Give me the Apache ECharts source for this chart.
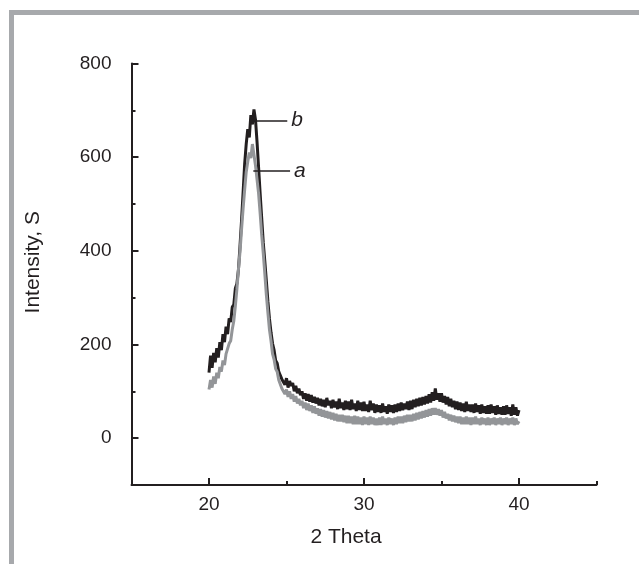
<!DOCTYPE html>
<html>
<head>
<meta charset="utf-8">
<script src="https://cdn.jsdelivr.net/npm/echarts@6/dist/echarts.min.js"></script>
<style>html,body{margin:0;padding:0;background:#fff;}#c{width:639px;height:564px;}</style>
</head>
<body>
<div id="c"></div>
<script>
const xLabelTitle = '2 Theta';
const yLabelTitle = 'Intensity, S';
const xTickLabels = [20, 30, 40];
const xMinorTicks = [25, 35, 45];
const yTickLabels = [0, 200, 400, 600, 800];
const yMinorTicks = [100, 300, 500, 700];

const twoTheta = [
20.0,20.1,20.2,20.3,20.4,20.5,20.6,20.7,20.8,20.9,
21.0,21.1,21.2,21.3,21.4,21.5,21.6,21.7,21.8,21.9,
22.0,22.1,22.2,22.3,22.4,22.5,22.6,22.7,22.8,22.9,
23.0,23.1,23.2,23.3,23.4,23.5,23.6,23.7,23.8,23.9,
24.0,24.1,24.2,24.3,24.4,24.5,24.6,24.7,24.8,24.9,
25.0,25.1,25.2,25.3,25.4,25.5,25.6,25.7,25.8,25.9,
26.0,26.1,26.2,26.3,26.4,26.5,26.6,26.7,26.8,26.9,
27.0,27.1,27.2,27.3,27.4,27.5,27.6,27.7,27.8,27.9,
28.0,28.1,28.2,28.3,28.4,28.5,28.6,28.7,28.8,28.9,
29.0,29.1,29.2,29.3,29.4,29.5,29.6,29.7,29.8,29.9,
30.0,30.1,30.2,30.3,30.4,30.5,30.6,30.7,30.8,30.9,
31.0,31.1,31.2,31.3,31.4,31.5,31.6,31.7,31.8,31.9,
32.0,32.1,32.2,32.3,32.4,32.5,32.6,32.7,32.8,32.9,
33.0,33.1,33.2,33.3,33.4,33.5,33.6,33.7,33.8,33.9,
34.0,34.1,34.2,34.3,34.4,34.5,34.6,34.7,34.8,34.9,
35.0,35.1,35.2,35.3,35.4,35.5,35.6,35.7,35.8,35.9,
36.0,36.1,36.2,36.3,36.4,36.5,36.6,36.7,36.8,36.9,
37.0,37.1,37.2,37.3,37.4,37.5,37.6,37.7,37.8,37.9,
38.0,38.1,38.2,38.3,38.4,38.5,38.6,38.7,38.8,38.9,
39.0,39.1,39.2,39.3,39.4,39.5,39.6,39.7,39.8,39.9,
40.0
];

// sample b (black)
const seriesB = [
140,176,150,182,162,192,172,205,188,222,
205,238,222,256,248,280,285,320,330,360,
410,465,525,585,628,660,642,690,670,702,
680,632,578,522,470,418,378,336,292,255,
226,202,188,166,160,142,140,126,128,114,
128,108,122,112,118,100,112,96,106,92,
100,84,96,80,94,78,92,76,88,74,
86,70,84,68,82,66,86,70,80,64,
82,66,78,62,84,64,76,60,80,62,
78,60,82,62,74,58,80,60,76,58,
78,58,72,56,80,60,74,54,72,56,
70,54,74,56,68,52,72,56,70,54,
72,56,74,58,76,60,74,62,78,60,
80,62,82,66,84,68,86,70,88,72,
90,74,94,76,98,80,106,82,96,78,
96,76,90,72,88,68,84,66,80,62,
78,60,76,58,74,56,78,58,72,56,
72,54,74,56,70,52,72,54,68,52,
70,52,72,54,68,50,70,52,66,50,
68,50,70,52,66,48,72,50,66,48,
60
];

// sample a (grey)
const seriesA = [
104,124,108,132,116,140,128,152,142,166,
156,180,176,202,208,232,250,282,318,360,
398,445,490,530,568,590,610,598,628,605,
582,552,522,480,434,395,352,306,268,232,
208,180,168,148,142,124,122,106,108,94,
104,88,100,84,94,78,90,74,84,70,
80,64,76,60,74,58,70,54,68,52,
64,48,62,46,60,44,58,42,56,40,
54,38,52,36,50,36,50,34,48,32,
48,32,46,30,48,30,46,30,44,28,
46,30,44,28,46,30,44,28,42,28,
44,28,46,30,42,28,44,30,42,28,
44,30,46,32,46,32,48,34,50,36,
50,36,52,38,54,40,56,42,58,44,
60,46,62,48,64,50,64,50,62,48,
60,44,56,42,52,38,50,36,48,34,
46,32,46,30,44,30,46,30,44,28,
44,30,46,30,42,28,44,30,42,28,
44,28,42,30,44,28,42,30,44,28,
42,30,44,28,42,30,44,28,42,30,
36
];

// annotation leaders: [x start, x end, y]
const leaderB = [23.0, 25.05, 678];
const leaderA = [22.86, 25.23, 571];

const pairs = (xs, ys) => xs.map((x, i) => [x, ys[i]]);

const INK = '#231f20';
const GREY = '#939598';
const FONT = 'Liberation Sans, Arial, sans-serif';
const FS = 19;
const NFS = 21;

function tickAxis(extra, vals, len) {
  return Object.assign({
    type: 'value', gridIndex: 0, offset: 0,
    axisLine: {show: false, onZero: false},
    axisTick: {show: true, inside: true, length: len, customValues: vals, lineStyle: {color: INK, width: 2}},
    axisLabel: {show: false}, splitLine: {show: false}
  }, extra);
}

const chart = echarts.init(document.getElementById('c'), null, {renderer: 'canvas'});
chart.setOption({
  animation: false,
  backgroundColor: '#ffffff',
  graphic: [
    {type: 'rect', shape: {x: 9, y: 10, width: 630, height: 5}, style: {fill: '#a7a9ac'}},
    {type: 'rect', shape: {x: 9, y: 10, width: 5, height: 554}, style: {fill: '#a7a9ac'}}
  ],
  grid: [
    {left: 131.5, right: 42.5, top: 63.5, bottom: 79, containLabel: false}
  ],
  xAxis: [
    {
      type: 'value', gridIndex: 0, min: 15, max: 45, position: 'bottom',
      axisLine: {show: true, onZero: false, lineStyle: {color: INK, width: 2}},
      axisTick: {show: false},
      axisLabel: {show: true, customValues: xTickLabels, color: INK, fontSize: FS, fontFamily: FONT, margin: 10},
      splitLine: {show: false},
      name: xLabelTitle, nameLocation: 'middle', nameGap: 42,
      nameTextStyle: {color: INK, fontSize: NFS, fontFamily: FONT, padding: [0, 36, 0, 0]}
    },
    tickAxis({min: 15, max: 45, position: 'bottom'}, xMinorTicks, 4),
    tickAxis({min: 15, max: 45, position: 'bottom'}, xTickLabels, 7)
  ],
  yAxis: [
    {
      type: 'value', gridIndex: 0, min: -100, max: 800, position: 'left',
      axisLine: {show: true, onZero: false, lineStyle: {color: INK, width: 2}},
      axisTick: {show: false},
      axisLabel: {show: true, customValues: yTickLabels, color: INK, fontSize: FS, fontFamily: FONT, margin: 20},
      splitLine: {show: false},
      name: yLabelTitle, nameLocation: 'middle', nameGap: 88, nameRotate: 90,
      nameTextStyle: {color: INK, fontSize: NFS, fontFamily: FONT, padding: [0, 0, 0, 24]}
    },
    tickAxis({min: -100, max: 800, position: 'left'}, yMinorTicks, 4),
    tickAxis({min: -100, max: 800, position: 'left'}, yTickLabels, 7)
  ],
  series: [
    {
      name: 'b', type: 'line', xAxisIndex: 0, yAxisIndex: 0,
      data: pairs(twoTheta, seriesB), showSymbol: false, symbol: 'none',
      lineStyle: {color: INK, width: 3}, z: 2,
      markLine: {
        silent: true, symbol: 'none', animation: false,
        lineStyle: {color: INK, width: 1.6, type: 'solid'},
        label: {show: true, position: 'end', formatter: 'b', color: INK, fontSize: NFS, fontStyle: 'italic', fontFamily: FONT, distance: 4},
        data: [[{coord: [leaderB[0], leaderB[2]]}, {coord: [leaderB[1], leaderB[2]]}]]
      }
    },
    {
      name: 'a', type: 'line', xAxisIndex: 0, yAxisIndex: 0,
      data: pairs(twoTheta, seriesA), showSymbol: false, symbol: 'none',
      lineStyle: {color: GREY, width: 3}, z: 3,
      markLine: {
        silent: true, symbol: 'none', animation: false,
        lineStyle: {color: INK, width: 1.6, type: 'solid'},
        label: {show: true, position: 'end', formatter: 'a', color: INK, fontSize: NFS, fontStyle: 'italic', fontFamily: FONT, distance: 4},
        data: [[{coord: [leaderA[0], leaderA[2]]}, {coord: [leaderA[1], leaderA[2]]}]]
      }
    }
  ]
});
</script>
</body>
</html>
